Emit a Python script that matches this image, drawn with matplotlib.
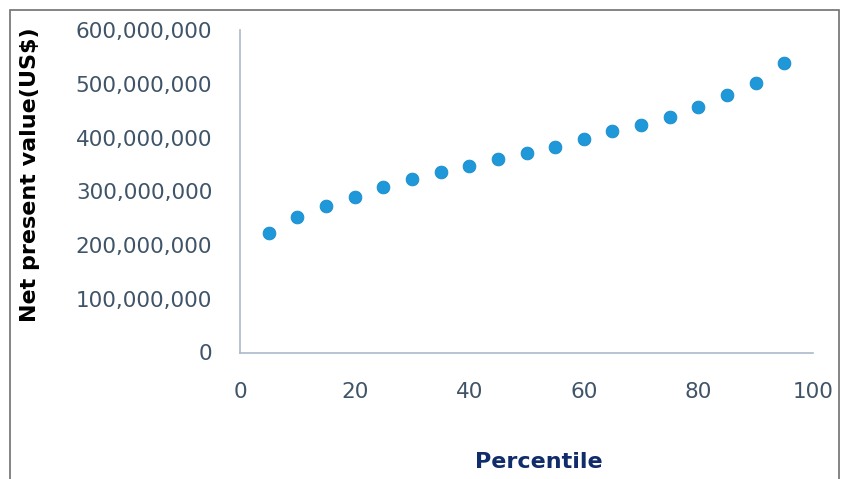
import matplotlib
matplotlib.use("Agg")
import matplotlib.pyplot as plt
from matplotlib.ticker import FuncFormatter
from matplotlib.patches import Rectangle

percentile = [5, 10, 15, 20, 25, 30, 35, 40, 45, 50, 55, 60, 65, 70, 75, 80, 85, 90, 95]
npv = [222e6, 252e6, 273e6, 290e6, 308e6, 322e6, 336e6, 347e6, 360e6, 371e6,
       383e6, 397e6, 413e6, 424e6, 439e6, 457e6, 479e6, 502e6, 538e6]
x_ticks = [0, 20, 40, 60, 80, 100]
y_ticks = [0, 100e6, 200e6, 300e6, 400e6, 500e6, 600e6]

fig = plt.figure(figsize=(8.46, 4.79), dpi=100)
W, H = 846, 479
ax = fig.add_axes([240 / W, 1 - 352.5 / H, (813 - 240) / W, (352.5 - 30) / H])

ax.plot(percentile, npv, linestyle='none', marker='o', markersize=9.2,
        color='#1E98D8', markeredgecolor='#1A8CCB', markeredgewidth=0.6)

ax.set_xlim(0, 100)
ax.set_ylim(0, 600e6)
ax.set_xticks(x_ticks)
ax.set_yticks(y_ticks)
ax.yaxis.set_major_formatter(FuncFormatter(lambda v, p: f"{int(round(v)):,}"))

tick_color = '#3F5468'
ax.tick_params(axis='both', length=0, labelsize=15.5, labelcolor=tick_color)
ax.tick_params(axis='y', pad=20)
ax.tick_params(axis='x', pad=21)

for s in ['top', 'right']:
    ax.spines[s].set_visible(False)
for s in ['left', 'bottom']:
    ax.spines[s].set_color('#A9BACD')
    ax.spines[s].set_linewidth(1.2)

fig.text(30 / W, 1 - 175 / H, "Net present value(US$)", rotation=90,
         ha='center', va='center', fontsize=16, fontweight='bold', color='black')
fig.text(539 / W, 1 - 462 / H, "Percentile", ha='center', va='center',
         fontsize=16, fontweight='bold', color='#102C6A')

fig.patches.append(Rectangle((10 / W, -0.1), (839 - 10) / W, 1.1 - 9.5 / H,
                             transform=fig.transFigure, fill=False,
                             edgecolor='#707070', linewidth=1.2))

fig.savefig("out.png", dpi=100)
